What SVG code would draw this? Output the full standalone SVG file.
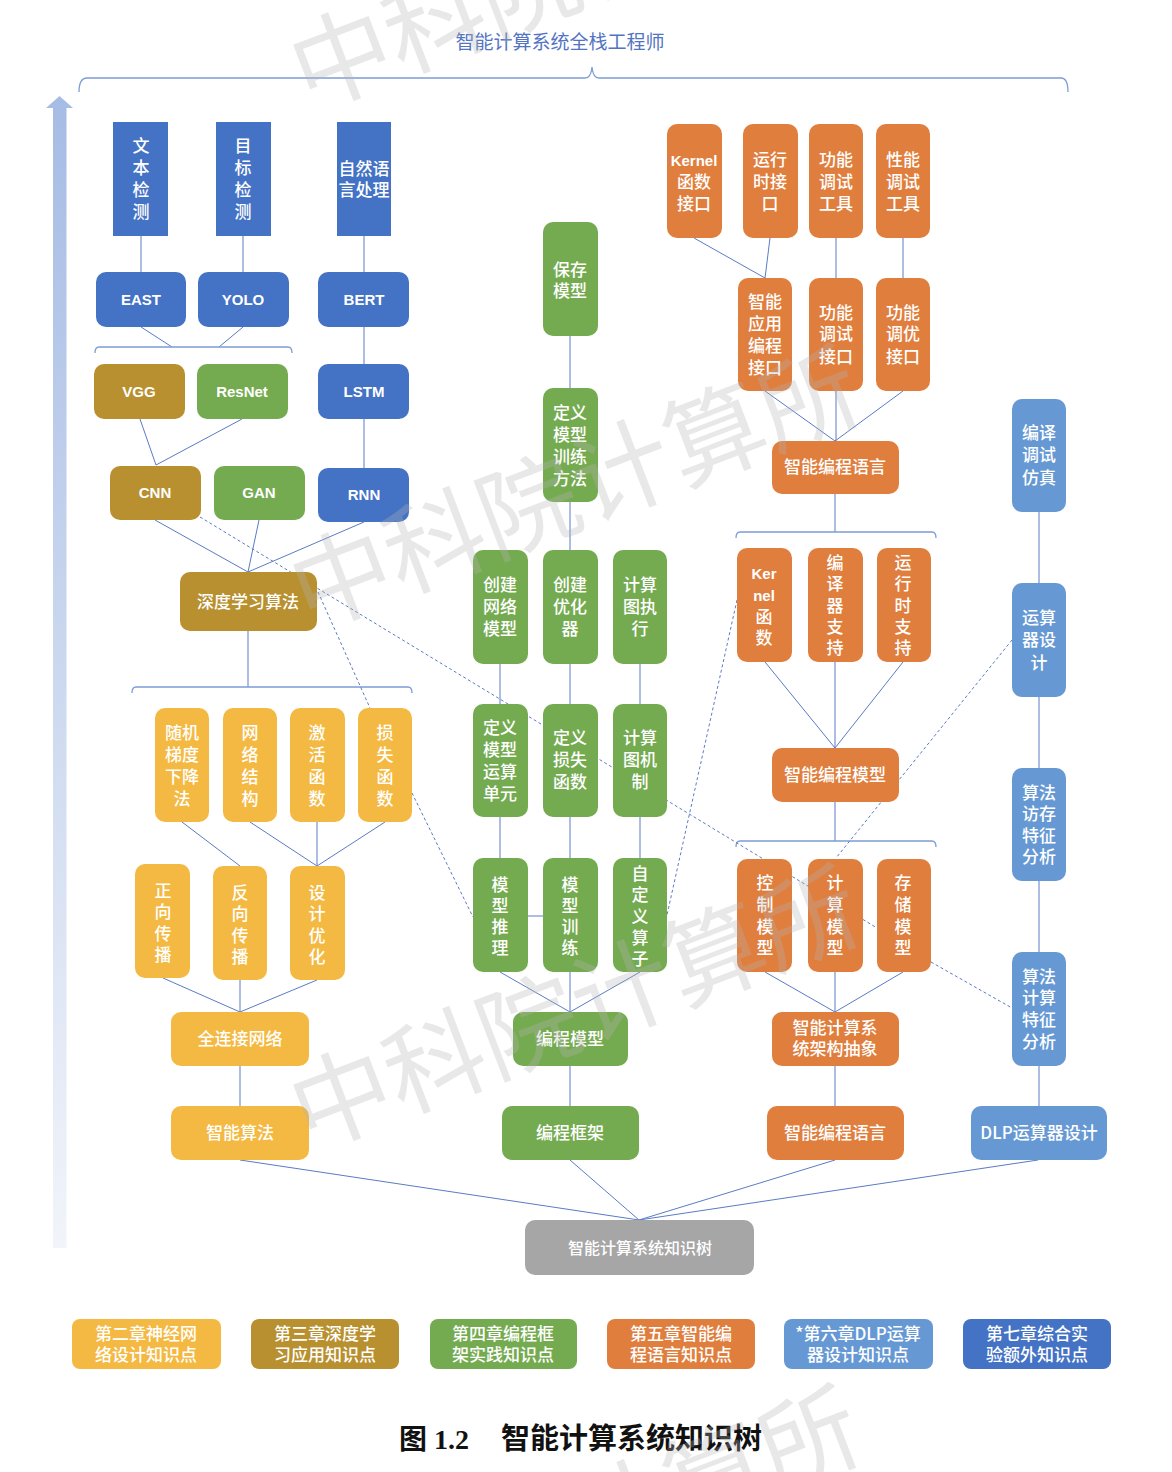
<svg xmlns="http://www.w3.org/2000/svg" width="1172" height="1472" viewBox="0 0 1172 1472">
<defs>
<linearGradient id="ag" x1="0" y1="0" x2="0" y2="1">
<stop offset="0" stop-color="#a6bce4"/>
<stop offset="1" stop-color="#f1f4fa"/>
</linearGradient>
<style>
.ln{stroke:#5a7bc6;stroke-width:1;fill:none}
.ds{stroke:#5a7bc6;stroke-width:1;fill:none;stroke-dasharray:3 2.5}
.br{stroke:#7f9cd6;stroke-width:1.3;fill:none}
.blue{fill:#4472C4}
.gold{fill:#B8902F}
.green{fill:#75AB50}
.yel{fill:#F4B942}
.org{fill:#E07E3D}
.lb{fill:#6699D4}
.gray{fill:#A6A6A6}
.t{font-family:"Noto Sans CJK SC","Noto Sans",sans-serif;font-size:17px;fill:#fff;text-anchor:middle;font-weight:500}
.e{font-family:"Liberation Sans","Noto Sans",sans-serif;font-size:15px;font-weight:bold;fill:#fff;text-anchor:middle}
.k{font-family:"Liberation Sans","Noto Sans",sans-serif;font-size:15px;font-weight:bold}
.wm{font-family:"Noto Sans CJK SC",sans-serif;font-size:100px;fill:#b4b4b4;opacity:0.3}
</style>
</defs>
<rect width="1172" height="1472" fill="#fff"/>

<!-- title and brace -->
<text x="560" y="49" style="font-family:'Noto Sans CJK SC',sans-serif;font-size:19px;fill:#5274c2;text-anchor:middle">智能计算系统全栈工程师</text>
<path class="br" d="M79 92 Q79 78 87 78 L585 78 Q591 78 592 67 Q593 78 599 78 L1061 78 Q1068 78 1068 92"/>
<path d="M46 108 L59.5 96 L73 108 L66.5 108 L66.5 1248 L53 1248 L53 108 Z" fill="url(#ag)"/>

<g id="connectors">
<path class="ln" d="M141 236V272M243 236V272M364 236V272M364 327V364M364 419V468"/>
<path class="ln" d="M141 327L172 347M243 327L219 347"/>
<path class="br" d="M95 353Q95 347 99 347H288Q292 347 292 353"/>
<path class="ln" d="M140 419L156 465M242 419L156 465"/>
<path class="ln" d="M155 520L248 572M259 520L248 572M364 522L248 572"/>
<path class="ln" d="M248 631V687"/>
<path class="br" d="M132 693Q132 687 136 687H408Q412 687 412 693"/>
<path class="ln" d="M182 822L240 866M250 822L317 866M317 822V866M385 822L317 866"/>
<path class="ln" d="M163 978L240 1012M240 980V1012M317 980L240 1012M240 1066V1106"/>
<path class="ln" d="M570 336V388M570 502V550M500 664V704M570 664V704M640 664V704M500 817V858M570 817V858M640 817V858M528 916H543"/>
<path class="ln" d="M500 972L570 1012M570 972V1012M640 972L570 1012M570 1066V1106"/>
<path class="ln" d="M694 238L765 278M770 238L765 278M836 238V278M903 238V278"/>
<path class="ln" d="M765 391L835 441M836 391V441M903 391L835 441M835 494V532"/>
<path class="br" d="M736 538Q736 532 740 532H932Q936 532 936 538"/>
<path class="ln" d="M765 662L835 748M835 662V748M903 662L835 748M835 802V841"/>
<path class="br" d="M736 847Q736 841 740 841H932Q936 841 936 847"/>
<path class="ln" d="M765 972L835 1012M835 972V1012M903 972L835 1012M835 1066V1106"/>
<path class="ln" d="M1039 512V583M1039 697V768M1039 881V952M1039 1066V1106"/>
<path class="ln" d="M240 1160L639 1220M570 1160L639 1220M835 1160L639 1220M1038 1160L639 1220"/>
<path class="ds" d="M200 517L877 928M318 592L370 708M412 793L473 917M737 600L667 915M1012 640L836 858M931 962L1012 1008"/>
</g>

<g id="n-wenben"><rect class="blue" x="113" y="122" width="55" height="114"/><text class="t"><tspan x="141" y="152">文</tspan><tspan x="141" y="174">本</tspan><tspan x="141" y="196">检</tspan><tspan x="141" y="218">测</tspan></text></g>
<g id="n-mubiao"><rect class="blue" x="216" y="122" width="55" height="114"/><text class="t"><tspan x="243" y="152">目</tspan><tspan x="243" y="174">标</tspan><tspan x="243" y="196">检</tspan><tspan x="243" y="218">测</tspan></text></g>
<g id="n-nlp"><rect class="blue" x="337" y="122" width="54" height="114"/><text class="t"><tspan x="364" y="175">自然语</tspan><tspan x="364" y="196">言处理</tspan></text></g>
<g id="n-east"><rect class="blue" x="96" y="272" width="90" height="55" rx="10"/><text class="e" x="141" y="305">EAST</text></g>
<g id="n-yolo"><rect class="blue" x="198" y="272" width="91" height="55" rx="10"/><text class="e" x="243" y="305">YOLO</text></g>
<g id="n-bert"><rect class="blue" x="318" y="272" width="91" height="55" rx="10"/><text class="e" x="364" y="305">BERT</text></g>
<g id="n-vgg"><rect class="gold" x="94" y="364" width="91" height="55" rx="10"/><text class="e" x="139" y="397">VGG</text></g>
<g id="n-resnet"><rect class="green" x="197" y="364" width="91" height="55" rx="10"/><text class="e" x="242" y="397">ResNet</text></g>
<g id="n-lstm"><rect class="blue" x="318" y="364" width="91" height="55" rx="10"/><text class="e" x="364" y="397">LSTM</text></g>
<g id="n-cnn"><rect class="gold" x="110" y="466" width="91" height="54" rx="10"/><text class="e" x="155" y="498">CNN</text></g>
<g id="n-gan"><rect class="green" x="214" y="466" width="91" height="54" rx="10"/><text class="e" x="259" y="498">GAN</text></g>
<g id="n-rnn"><rect class="blue" x="318" y="468" width="91" height="54" rx="10"/><text class="e" x="364" y="500">RNN</text></g>
<g id="n-dl"><rect class="gold" x="180" y="572" width="137" height="59" rx="10"/><text class="t" x="248" y="608">深度学习算法</text></g>

<g id="n-sgd"><rect class="yel" x="155" y="708" width="54" height="114" rx="10"/><text class="t"><tspan x="182" y="739">随机</tspan><tspan x="182" y="761">梯度</tspan><tspan x="182" y="783">下降</tspan><tspan x="182" y="805">法</tspan></text></g>
<g id="n-wljg"><rect class="yel" x="223" y="708" width="54" height="114" rx="10"/><text class="t"><tspan x="250" y="739">网</tspan><tspan x="250" y="761">络</tspan><tspan x="250" y="783">结</tspan><tspan x="250" y="805">构</tspan></text></g>
<g id="n-jhhs"><rect class="yel" x="290" y="708" width="55" height="114" rx="10"/><text class="t"><tspan x="317" y="739">激</tspan><tspan x="317" y="761">活</tspan><tspan x="317" y="783">函</tspan><tspan x="317" y="805">数</tspan></text></g>
<g id="n-sshs"><rect class="yel" x="358" y="708" width="54" height="114" rx="10"/><text class="t"><tspan x="385" y="739">损</tspan><tspan x="385" y="761">失</tspan><tspan x="385" y="783">函</tspan><tspan x="385" y="805">数</tspan></text></g>
<g id="n-zxcb"><rect class="yel" x="135" y="864" width="55" height="114" rx="10"/><text class="t"><tspan x="163" y="897">正</tspan><tspan x="163" y="918">向</tspan><tspan x="163" y="940">传</tspan><tspan x="163" y="961">播</tspan></text></g>
<g id="n-fxcb"><rect class="yel" x="213" y="866" width="54" height="114" rx="10"/><text class="t"><tspan x="240" y="899">反</tspan><tspan x="240" y="920">向</tspan><tspan x="240" y="942">传</tspan><tspan x="240" y="963">播</tspan></text></g>
<g id="n-sjyh"><rect class="yel" x="290" y="866" width="55" height="114" rx="10"/><text class="t"><tspan x="317" y="899">设</tspan><tspan x="317" y="920">计</tspan><tspan x="317" y="942">优</tspan><tspan x="317" y="963">化</tspan></text></g>
<g id="n-qljwl"><rect class="yel" x="171" y="1012" width="138" height="54" rx="10"/><text class="t" x="240" y="1045">全连接网络</text></g>
<g id="n-znsf"><rect class="yel" x="171" y="1106" width="138" height="54" rx="10"/><text class="t" x="240" y="1139">智能算法</text></g>

<g id="n-bcmx0"><rect class="green" x="543" y="222" width="55" height="114" rx="10"/><text class="t"><tspan x="570" y="276">保存</tspan><tspan x="570" y="297">模型</tspan></text></g>
<g id="n-dyxl"><rect class="green" x="543" y="388" width="55" height="114" rx="10"/><text class="t"><tspan x="570" y="419">定义</tspan><tspan x="570" y="441">模型</tspan><tspan x="570" y="463">训练</tspan><tspan x="570" y="485">方法</tspan></text></g>
<g id="n-cjwl"><rect class="green" x="473" y="550" width="55" height="114" rx="10"/><text class="t"><tspan x="500" y="591">创建</tspan><tspan x="500" y="613">网络</tspan><tspan x="500" y="635">模型</tspan></text></g>
<g id="n-cjyh"><rect class="green" x="543" y="550" width="55" height="114" rx="10"/><text class="t"><tspan x="570" y="591">创建</tspan><tspan x="570" y="613">优化</tspan><tspan x="570" y="635">器</tspan></text></g>
<g id="n-jstzx"><rect class="green" x="613" y="550" width="54" height="114" rx="10"/><text class="t"><tspan x="640" y="591">计算</tspan><tspan x="640" y="613">图执</tspan><tspan x="640" y="635">行</tspan></text></g>
<g id="n-dyys"><rect class="green" x="473" y="704" width="55" height="113" rx="10"/><text class="t"><tspan x="500" y="734">定义</tspan><tspan x="500" y="756">模型</tspan><tspan x="500" y="778">运算</tspan><tspan x="500" y="800">单元</tspan></text></g>
<g id="n-dyss"><rect class="green" x="543" y="704" width="55" height="113" rx="10"/><text class="t"><tspan x="570" y="744">定义</tspan><tspan x="570" y="766">损失</tspan><tspan x="570" y="788">函数</tspan></text></g>
<g id="n-jstjz"><rect class="green" x="613" y="704" width="54" height="113" rx="10"/><text class="t"><tspan x="640" y="744">计算</tspan><tspan x="640" y="766">图机</tspan><tspan x="640" y="788">制</tspan></text></g>
<g id="n-mxtl"><rect class="green" x="473" y="858" width="55" height="114" rx="10"/><text class="t"><tspan x="500" y="891">模</tspan><tspan x="500" y="912">型</tspan><tspan x="500" y="933">推</tspan><tspan x="500" y="954">理</tspan></text></g>
<g id="n-mxxl"><rect class="green" x="543" y="858" width="55" height="114" rx="10"/><text class="t"><tspan x="570" y="891">模</tspan><tspan x="570" y="912">型</tspan><tspan x="570" y="933">训</tspan><tspan x="570" y="954">练</tspan></text></g>
<g id="n-zdysz"><rect class="green" x="613" y="858" width="54" height="114" rx="10"/><text class="t"><tspan x="640" y="880">自</tspan><tspan x="640" y="901">定</tspan><tspan x="640" y="923">义</tspan><tspan x="640" y="944">算</tspan><tspan x="640" y="965">子</tspan></text></g>
<g id="n-bcmx"><rect class="green" x="513" y="1012" width="115" height="54" rx="10"/><text class="t" x="570" y="1045">编程模型</text></g>
<g id="n-bckj"><rect class="green" x="502" y="1106" width="137" height="54" rx="10"/><text class="t" x="570" y="1139">编程框架</text></g>

<g id="n-kerneljk"><rect class="org" x="667" y="124" width="55" height="114" rx="10"/><text class="t"><tspan x="694" y="166" class="k">Kernel</tspan><tspan x="694" y="188">函数</tspan><tspan x="694" y="210">接口</tspan></text></g>
<g id="n-yxsjk"><rect class="org" x="743" y="124" width="55" height="114" rx="10"/><text class="t"><tspan x="770" y="166">运行</tspan><tspan x="770" y="188">时接</tspan><tspan x="770" y="210">口</tspan></text></g>
<g id="n-gntsgj"><rect class="org" x="809" y="124" width="54" height="114" rx="10"/><text class="t"><tspan x="836" y="166">功能</tspan><tspan x="836" y="188">调试</tspan><tspan x="836" y="210">工具</tspan></text></g>
<g id="n-xntsgj"><rect class="org" x="876" y="124" width="54" height="114" rx="10"/><text class="t"><tspan x="903" y="166">性能</tspan><tspan x="903" y="188">调试</tspan><tspan x="903" y="210">工具</tspan></text></g>
<g id="n-znyyjk"><rect class="org" x="738" y="278" width="54" height="113" rx="10"/><text class="t"><tspan x="765" y="308">智能</tspan><tspan x="765" y="330">应用</tspan><tspan x="765" y="352">编程</tspan><tspan x="765" y="374">接口</tspan></text></g>
<g id="n-gntsjk"><rect class="org" x="809" y="278" width="54" height="113" rx="10"/><text class="t"><tspan x="836" y="319">功能</tspan><tspan x="836" y="340">调试</tspan><tspan x="836" y="363">接口</tspan></text></g>
<g id="n-gntyjk"><rect class="org" x="876" y="278" width="54" height="113" rx="10"/><text class="t"><tspan x="903" y="319">功能</tspan><tspan x="903" y="340">调优</tspan><tspan x="903" y="363">接口</tspan></text></g>
<g id="n-znbcyy1"><rect class="org" x="772" y="441" width="127" height="53" rx="10"/><text class="t" x="835" y="473">智能编程语言</text></g>
<g id="n-kernel"><rect class="org" x="737" y="548" width="55" height="114" rx="10"/><text class="t"><tspan x="764" y="579" class="k">Ker</tspan><tspan x="764" y="601" class="k">nel</tspan><tspan x="764" y="623">函</tspan><tspan x="764" y="644">数</tspan></text></g>
<g id="n-byqzc"><rect class="org" x="808" y="548" width="55" height="114" rx="10"/><text class="t"><tspan x="835" y="569">编</tspan><tspan x="835" y="590">译</tspan><tspan x="835" y="612">器</tspan><tspan x="835" y="633">支</tspan><tspan x="835" y="654">持</tspan></text></g>
<g id="n-yxszc"><rect class="org" x="877" y="548" width="54" height="114" rx="10"/><text class="t"><tspan x="903" y="569">运</tspan><tspan x="903" y="590">行</tspan><tspan x="903" y="612">时</tspan><tspan x="903" y="633">支</tspan><tspan x="903" y="654">持</tspan></text></g>
<g id="n-znbcmx"><rect class="org" x="772" y="748" width="127" height="54" rx="10"/><text class="t" x="835" y="781">智能编程模型</text></g>
<g id="n-kzmx"><rect class="org" x="737" y="859" width="55" height="113" rx="10"/><text class="t"><tspan x="765" y="889">控</tspan><tspan x="765" y="911">制</tspan><tspan x="765" y="933">模</tspan><tspan x="765" y="954">型</tspan></text></g>
<g id="n-jsmx"><rect class="org" x="808" y="859" width="55" height="113" rx="10"/><text class="t"><tspan x="835" y="889">计</tspan><tspan x="835" y="911">算</tspan><tspan x="835" y="933">模</tspan><tspan x="835" y="954">型</tspan></text></g>
<g id="n-ccmx"><rect class="org" x="877" y="859" width="54" height="113" rx="10"/><text class="t"><tspan x="903" y="889">存</tspan><tspan x="903" y="911">储</tspan><tspan x="903" y="933">模</tspan><tspan x="903" y="954">型</tspan></text></g>
<g id="n-jgcx"><rect class="org" x="772" y="1012" width="127" height="54" rx="10"/><text class="t"><tspan x="835" y="1034">智能计算系</tspan><tspan x="835" y="1055">统架构抽象</tspan></text></g>
<g id="n-znbcyy2"><rect class="org" x="767" y="1106" width="137" height="54" rx="10"/><text class="t" x="835" y="1139">智能编程语言</text></g>

<g id="n-bytsfz"><rect class="lb" x="1012" y="399" width="54" height="113" rx="10"/><text class="t"><tspan x="1039" y="439">编译</tspan><tspan x="1039" y="461">调试</tspan><tspan x="1039" y="484">仿真</tspan></text></g>
<g id="n-ysqsj"><rect class="lb" x="1012" y="583" width="54" height="114" rx="10"/><text class="t"><tspan x="1039" y="624">运算</tspan><tspan x="1039" y="646">器设</tspan><tspan x="1039" y="669">计</tspan></text></g>
<g id="n-fctz"><rect class="lb" x="1012" y="768" width="54" height="113" rx="10"/><text class="t"><tspan x="1039" y="799">算法</tspan><tspan x="1039" y="820">访存</tspan><tspan x="1039" y="842">特征</tspan><tspan x="1039" y="863">分析</tspan></text></g>
<g id="n-jstz"><rect class="lb" x="1012" y="952" width="54" height="114" rx="10"/><text class="t"><tspan x="1039" y="983">算法</tspan><tspan x="1039" y="1004">计算</tspan><tspan x="1039" y="1026">特征</tspan><tspan x="1039" y="1048">分析</tspan></text></g>
<g id="n-dlp"><rect class="lb" x="971" y="1106" width="136" height="54" rx="10"/><text class="t" x="1039" y="1139">DLP运算器设计</text></g>

<g id="n-root"><rect class="gray" x="525" y="1220" width="229" height="55" rx="10"/><text class="t" x="640" y="1254" style="font-size:16px">智能计算系统知识树</text></g>

<g id="legend">
<g id="lg2"><rect class="yel" x="72" y="1319" width="149" height="50" rx="8"/><text class="t"><tspan x="146" y="1340">第二章神经网</tspan><tspan x="146" y="1361">络设计知识点</tspan></text></g>
<g id="lg3"><rect class="gold" x="251" y="1319" width="148" height="50" rx="8"/><text class="t"><tspan x="325" y="1340">第三章深度学</tspan><tspan x="325" y="1361">习应用知识点</tspan></text></g>
<g id="lg4"><rect class="green" x="430" y="1319" width="147" height="50" rx="8"/><text class="t"><tspan x="503" y="1340">第四章编程框</tspan><tspan x="503" y="1361">架实践知识点</tspan></text></g>
<g id="lg5"><rect class="org" x="607" y="1319" width="148" height="50" rx="8"/><text class="t"><tspan x="681" y="1340">第五章智能编</tspan><tspan x="681" y="1361">程语言知识点</tspan></text></g>
<g id="lg6"><rect class="lb" x="784" y="1319" width="149" height="50" rx="8"/><text class="t"><tspan x="858" y="1340">*第六章DLP运算</tspan><tspan x="858" y="1361">器设计知识点</tspan></text></g>
<g id="lg7"><rect class="blue" x="963" y="1319" width="148" height="50" rx="8"/><text class="t"><tspan x="1037" y="1340">第七章综合实</tspan><tspan x="1037" y="1361">验额外知识点</tspan></text></g>
</g>

<text y="1449" style="font-family:'Liberation Serif','Noto Sans CJK SC',serif;font-size:28px;font-weight:bold;fill:#111"><tspan x="399">图 1.2</tspan><tspan x="501" style="font-family:'Noto Sans CJK SC',sans-serif;font-size:29px">智能计算系统知识树</tspan></text>

<g id="watermark">
<text class="wm" transform="translate(308 110) rotate(-21)">中科院计算所</text>
<text class="wm" transform="translate(308 630) rotate(-21)">中科院计算所</text>
<text class="wm" transform="translate(308 1150) rotate(-21)">中科院计算所</text>
<text class="wm" transform="translate(308 1670) rotate(-21)">中科院计算所</text>
</g>
</svg>
